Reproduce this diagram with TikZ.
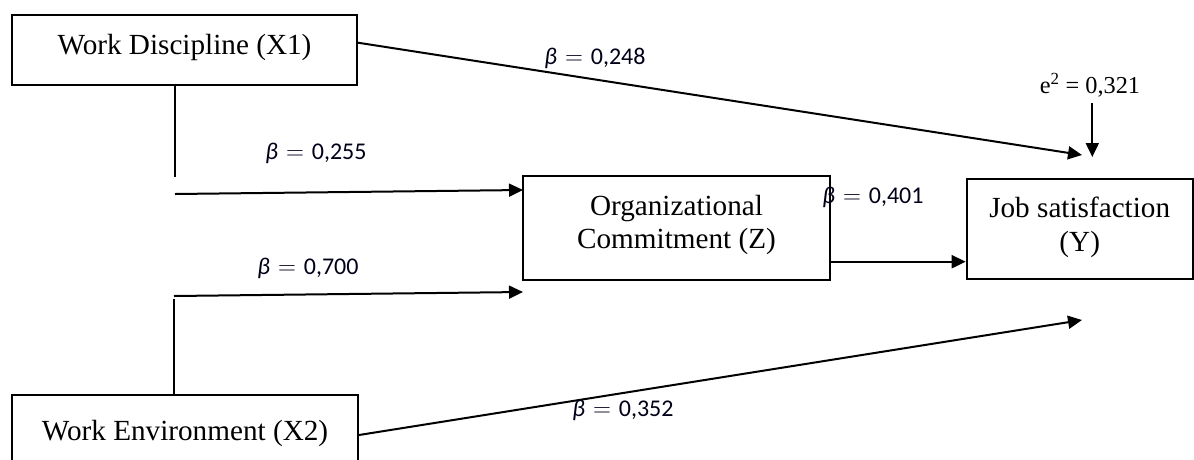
\documentclass[tikz,border=0pt]{standalone}
\usepackage{fontspec}
\setmainfont{Liberation Serif}
\newfontfamily\coeffont{Carlito}
\usetikzlibrary{arrows.meta}
\newcommand{\coefval}[1]{{\itshape β}\hspace{0.33em}$=$\hspace{0.33em}#1}
\begin{document}
\begin{tikzpicture}[x=1pt,y=-1pt,
  box/.style={draw, line width=2pt, inner sep=0pt, align=center, font=\fontsize{29.2}{33.5}\selectfont},
  conn/.style={line width=2pt},
  arr/.style={line width=2pt, -{Triangle[length=14pt,width=13pt]}},
  coef/.style={inner sep=0pt, text=black!90!blue, font=\coeffont\fontsize{24}{28}\selectfont},
  errlab/.style={inner sep=0pt, font=\fontsize{24.3}{28}\selectfont}]
\useasboundingbox[fill=white] (0,0) rectangle (1194,459);
% boxes
\node[box, minimum width=345pt, minimum height=70pt] (X1) at (184.5,50) {Work Discipline (X1)\rule[-12pt]{0pt}{12pt}};
\node[box, minimum width=346pt, minimum height=70pt] (X2) at (185,430) {\rule{0pt}{27.8pt}Work Environment (X2)};
\node[box, minimum width=307pt, minimum height=104pt] (Z) at (676.5,228) {Organizational\\Commitment (Z)\rule[-11.8pt]{0pt}{11.8pt}};
\node[box, minimum width=226pt, minimum height=100pt] (Y) at (1079.7,229) {Job satisfaction\\(Y)\rule[-9.6pt]{0pt}{9.6pt}};
% helper coordinates
\coordinate (a1) at (175,177);
\coordinate (a2) at (175,194);
\coordinate (z1) at (523,190);
\coordinate (b1) at (174,299);
\coordinate (b2) at (174,296);
\coordinate (z2) at (523,292);
\coordinate (y1) at (1082,155);
\coordinate (y2) at (1082,320);
\coordinate (e2s) at (1092.3,103);
\coordinate (e2t) at (1092.3,157);
% connectors
\draw[conn] (X1.south -| a1) -- (a1);
\draw[arr] (a2) -- (z1);
\draw[conn] (X2.north -| b1) -- (b1);
\draw[arr] (b2) -- (z2);
\draw[arr] ([yshift=7.3pt]X1.east) -- (y1);
\draw[arr] ([yshift=-5pt]X2.east) -- (y2);
\draw[arr] ([yshift=-33.7pt]Z.east) -- ([yshift=-32.7pt]Y.west);
\node[errlab] (e2) at (1090,85) {e\textsuperscript{2} = 0,321};
\draw[arr] (e2s) -- (e2t);
% coefficients
\node[coef] (c1) at (595,58) {\coefval{0,248}};
\node[coef] (c2) at (316,153) {\coefval{0,255}};
\node[coef] (c3) at (308,268) {\coefval{0,700}};
\node[coef] (c4) at (873,197) {\coefval{0,401}};
\node[coef] (c5) at (623,410) {\coefval{0,352}};
\end{tikzpicture}
\end{document}
